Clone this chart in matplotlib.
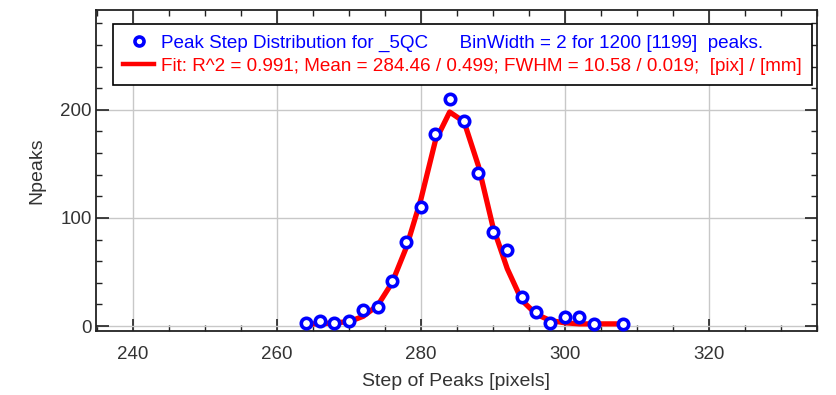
import matplotlib
matplotlib.use("Agg")
import matplotlib.pyplot as plt
from matplotlib.ticker import MultipleLocator
from matplotlib.lines import Line2D

plt.rcParams['font.family'] = ['Liberation Sans', 'DejaVu Sans']

# histogram of peak steps (bin width 2)
step_px = [264, 266, 268, 270, 272, 274, 276, 278, 280, 282, 284,
           286, 288, 290, 292, 294, 296, 298, 300, 302, 304, 308]
npeaks = [3, 5, 3, 5, 15, 18, 42, 78, 110, 178, 210,
          190, 142, 87, 70, 27, 13, 3, 8, 8, 2, 2]
# gaussian fit evaluated at the bin centres
fit_vals = [2, 2, 3, 4, 9, 19, 40, 73, 117, 171, 198,
            189, 148, 92, 53, 24, 11, 5, 3, 2, 2, 2]

data_label = "Peak Step Distribution for _5QC      BinWidth = 2 for 1200 [1199]  peaks."
fit_label = "Fit: R^2 = 0.991; Mean = 284.46 / 0.499; FWHM = 10.58 / 0.019;  [pix] / [mm]"

fig = plt.figure(figsize=(8.37, 3.95), dpi=100)
ax = fig.add_axes([0.1147, 0.162, 0.8614, 0.813])

ax.plot(step_px, fit_vals, color="red", lw=3.8, zorder=3, solid_joinstyle="round")
ax.plot(step_px, npeaks, ls="none", marker="o", ms=7.5, mfc="white", mec="blue",
        mew=2.6, zorder=4)

ax.set_xlim(234.9, 335)
ax.set_ylim(-4.6, 292.5)
ax.xaxis.set_major_locator(MultipleLocator(20))
ax.xaxis.set_minor_locator(MultipleLocator(5))
ax.yaxis.set_major_locator(MultipleLocator(100))
ax.yaxis.set_minor_locator(MultipleLocator(20))
ax.grid(True, which="major", color="#c8c8c8", lw=1)
ax.set_axisbelow(True)

ax.tick_params(which="both", direction="in", top=True, right=True, colors="#222222",
               labelcolor="#333333", labelsize=13.5)
ax.tick_params(which="major", length=9, width=1.2)
ax.tick_params(which="minor", length=4.5, width=1)
ax.tick_params(axis="x", which="major", pad=11)
ax.tick_params(axis="y", which="major", pad=3)
for sp in ax.spines.values():
    sp.set_linewidth(1.3)
    sp.set_color("#222222")

ax.set_xlabel("Step of Peaks [pixels]", fontsize=14, color="#333333", labelpad=7)
ax.set_ylabel("Npeaks", fontsize=14, color="#333333", labelpad=11)

handles = [Line2D([], [], ls="none", marker="o", ms=6.5, mfc="white", mec="blue", mew=2.6),
           Line2D([], [], color="red", lw=3.2)]
leg = ax.legend(handles, [data_label, fit_label], loc="upper left",
                bbox_to_anchor=(0.0236, 0.956), fontsize=13.6, frameon=True,
                fancybox=False, edgecolor="black", framealpha=1,
                handlelength=1.6, handletextpad=0.4, borderpad=0.55,
                labelspacing=0.3, borderaxespad=0)
leg.get_frame().set_linewidth(1.2)
leg.get_texts()[0].set_color("blue")
leg.get_texts()[1].set_color("red")

fig.savefig("out.png", dpi=100)
